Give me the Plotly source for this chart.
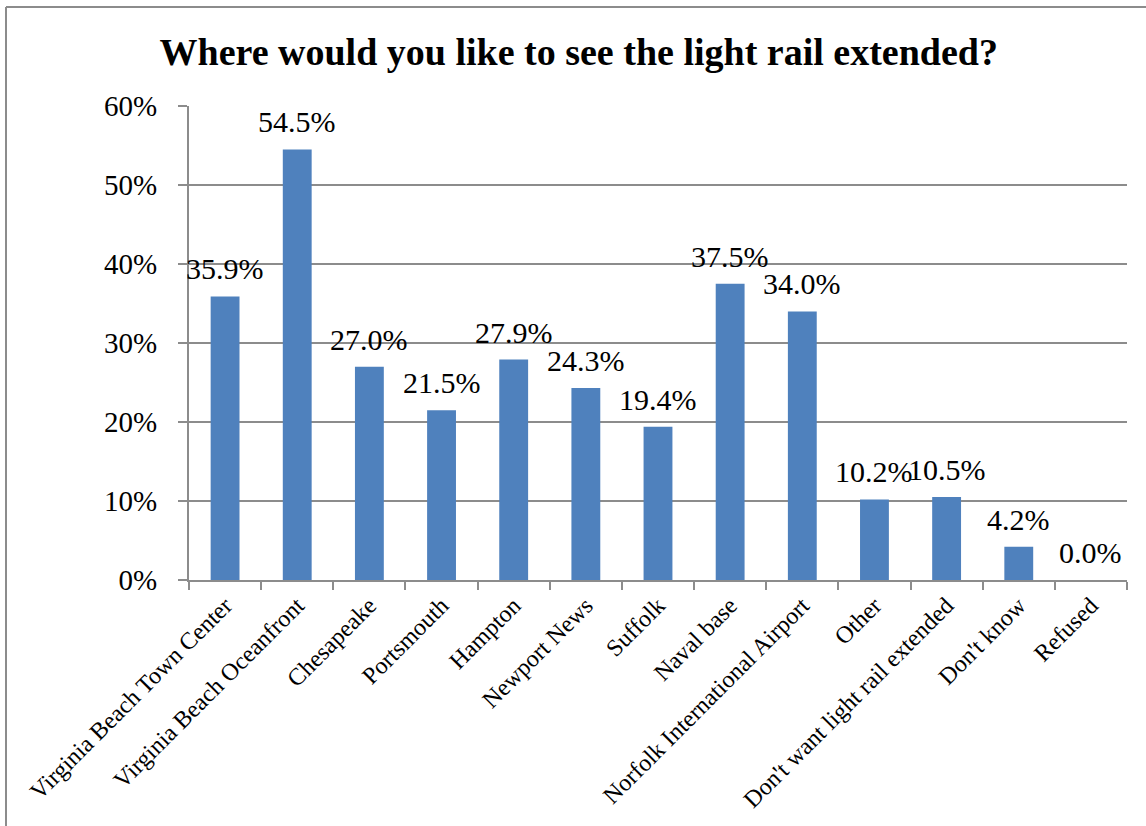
import plotly.graph_objects as go

categories = [
    "Virginia Beach Town Center",
    "Virginia Beach Oceanfront",
    "Chesapeake",
    "Portsmouth",
    "Hampton",
    "Newport News",
    "Suffolk",
    "Naval base",
    "Norfolk International Airport",
    "Other",
    "Don't want light rail extended",
    "Don't know",
    "Refused",
]
percent = [35.9, 54.5, 27.0, 21.5, 27.9, 24.3, 19.4, 37.5, 34.0, 10.2, 10.5, 4.2, 0.0]
y_ticks = [0, 10, 20, 30, 40, 50, 60]

W, H = 1146, 826
ML, MR, MT, MB = 189, 19, 106, 246
FONT = "Liberation Serif, Times New Roman, serif"
GRID = "#8c8c8c"

fig = go.Figure(
    go.Bar(
        x=categories,
        y=percent,
        marker=dict(color="#4f81bd", line=dict(width=0)),
        width=0.4,
        hovertemplate="%{x}: %{y:.1f}%<extra></extra>",
    )
)

# value labels above each bar
for cat, val in zip(categories, percent):
    fig.add_annotation(
        x=cat, y=val, text=f"{val:.1f}%", showarrow=False,
        xanchor="center", yanchor="bottom", yshift=9,
        font=dict(family=FONT, size=30, color="black"),
    )

# outer chart frame (left and top edges visible)
pw, ph = W - ML - MR, H - MT - MB
fx0 = (6 - ML) / pw
fy1 = 1 + (MT - 7) / ph
fx1 = (W + 5 - ML) / pw
fy0 = -(MB + 5) / ph
fig.add_shape(type="line", xref="paper", yref="paper", x0=fx0, x1=fx0, y0=fy0, y1=fy1,
              line=dict(color=GRID, width=2))
fig.add_shape(type="line", xref="paper", yref="paper", x0=fx0, x1=fx1, y0=fy1, y1=fy1,
              line=dict(color=GRID, width=2))

fig.update_layout(
    width=W,
    height=H,
    margin=dict(l=ML, r=MR, t=MT, b=MB, autoexpand=False),
    paper_bgcolor="white",
    plot_bgcolor="white",
    showlegend=False,
    title=dict(
        text="<b>Where would you like to see the light rail extended?</b>",
        font=dict(family=FONT, size=38, color="black"),
        x=0.505,
        xanchor="center",
        y=1 - 52 / H,
        yanchor="middle",
    ),
    font=dict(family=FONT, color="black"),
)

fig.update_xaxes(
    type="category",
    tickangle=-45,
    tickfont=dict(family=FONT, size=24, color="black"),
    showline=True,
    linecolor=GRID,
    linewidth=2,
    ticks="outside",
    tickson="boundaries",
    ticklen=8,
    tickcolor=GRID,
    tickwidth=2,
    showgrid=False,
    range=[-0.5, len(categories) - 0.5],
)

fig.update_yaxes(
    range=[0, 60],
    tickvals=y_ticks,
    ticktext=[f"{v}%" for v in y_ticks],
    tickfont=dict(family=FONT, size=29, color="black"),
    showgrid=True,
    gridcolor=GRID,
    gridwidth=1.5,
    showline=True,
    linecolor=GRID,
    linewidth=2,
    ticks="outside",
    ticklen=9,
    tickcolor=GRID,
    tickwidth=2,
    ticklabelstandoff=15,
    zeroline=False,
)

fig.write_html("out.html")
